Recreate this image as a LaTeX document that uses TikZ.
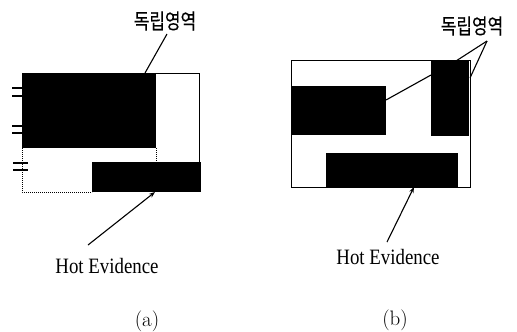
\documentclass[tikz,border=0pt]{standalone}
\usepackage{fontspec}
\setmainfont{Liberation Serif}
\newfontfamily\kor[FakeBold=0.4]{Noto Sans CJK KR}
\newfontfamily\lmr{Latin Modern Roman}
\usetikzlibrary{arrows.meta}
\tikzset{
  blk/.style={fill=black,draw=none,inner sep=0,outer sep=0,anchor=north west},
  frame/.style={draw=black,line width=0.9bp},
  dots/.style={draw=black,line width=0.7bp,dash pattern=on 1bp off 1bp},
  tick/.style={draw=black,line width=1.2bp},
  lead/.style={draw=black,line width=1.1bp},
  arr/.style={draw=black,line width=1.1bp,-{Stealth[length=6bp,width=4.5bp]}},
  kr/.style={font=\kor\fontsize{17}{17}\selectfont,inner sep=0,yscale=1.25},
  hot/.style={font=\fontsize{22}{22}\selectfont,inner sep=0,xscale=0.86},
  captxt/.style={font=\lmr\fontsize{21}{21}\selectfont,inner sep=0}
}
\begin{document}
\begin{tikzpicture}[x=1bp,y=-1bp]
\useasboundingbox (0,0) rectangle (517,331);
% ---------- (a) ----------
\draw[frame] (156,73) -- (199,73) -- (199,162);
\draw[dots] (156,148) -- (156,162);
\draw[dots] (22,148) -- (22,192) -- (92,192);
\node[blk,minimum width=134bp,minimum height=75bp] (a1) at (22,73) {};
\node[blk,minimum width=109bp,minimum height=30bp] (a2) at (92,162) {};
\coordinate (t1) at (12,88); \coordinate (t1e) at (22,88);
\coordinate (t2) at (12,96); \coordinate (t2e) at (22,96);
\coordinate (t3) at (12,126); \coordinate (t3e) at (22,126);
\coordinate (t4) at (12,133); \coordinate (t4e) at (22,133);
\coordinate (t5) at (13,163); \coordinate (t5e) at (28,163);
\coordinate (t6) at (13,170); \coordinate (t6e) at (28,170);
\draw[tick] (t1)--(t1e) (t2)--(t2e) (t3)--(t3e) (t4)--(t4e) (t5)--(t5e) (t6)--(t6e);
\node[kr] (la) at (165,21) {독립영역};
\coordinate (lae) at (167,34);
\coordinate (a1t) at (145,73);
\draw[lead] (lae) -- (a1t);
\node[hot] (ha) at (107,266) {Hot Evidence};
\coordinate (has) at (88,245);
\coordinate (a2b) at (155,192);
\draw[arr] (has) -- (a2b);
\node[captxt] (ca) at (147,321) {(a)};
% ---------- (b) ----------
\node[frame,minimum width=179bp,minimum height=127bp,inner sep=0,anchor=north west] (bo) at (291,60) {};
\node[blk,minimum width=95bp,minimum height=49bp] (b1) at (291,86) {};
\node[blk,minimum width=38bp,minimum height=76bp] (b2) at (431,60) {};
\node[blk,minimum width=132bp,minimum height=34bp] (b3) at (326,153) {};
\node[kr] (lb) at (472,26) {독립영역};
\coordinate (lbe) at (487,41);
\coordinate (b2t) at (456,61);
\coordinate (b2r) at (470,78);
\coordinate (b2l) at (431,75);
\coordinate (b1r) at (386,100);
\draw[lead] (lbe) -- (b2t);
\draw[lead] (lbe) -- (b2r);
\draw[lead] (b2l) -- (b1r);
\node[hot] (hb) at (388,257) {Hot Evidence};
\coordinate (hbs) at (387,242);
\coordinate (b3b) at (414,187);
\draw[arr] (hbs) -- (b3b);
\node[captxt] (cb) at (395,320) {(b)};
\end{tikzpicture}
\end{document}
